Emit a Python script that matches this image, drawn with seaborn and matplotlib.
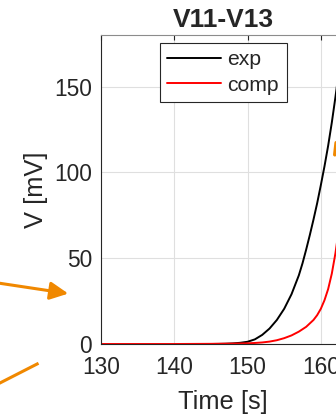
import numpy as np
import pandas as pd
import seaborn as sns
import matplotlib.pyplot as plt
from matplotlib.patches import FancyArrowPatch, ArrowStyle

# Measured voltage (exp) and computed voltage (comp) between nodes V11 and V13
t_exp = [145, 146, 147, 148, 149, 150, 151, 152, 153, 154, 155, 156, 157,
         157.5, 158, 158.5, 159, 159.5, 160, 160.5, 161, 161.5, 162, 162.5, 163]
v_exp = [0, 0.05, 0.15, 0.35, 0.7, 1.3, 2.7, 5.3, 9, 14, 20.5, 29, 40,
         47, 55, 63.5, 72.5, 82, 92.5, 103.5, 115.5, 129, 144, 160, 177]

t_comp = [130, 135, 140, 145, 148, 150, 151, 152, 153, 154, 155, 156, 157,
          158, 159, 159.5, 160, 160.5, 161, 161.5, 162, 162.5, 163]
v_comp = [0, 0, 0, 0.1, 0.25, 0.4, 0.6, 0.9, 1.4, 2.2, 3.4, 5, 7.2,
          10, 14, 16.8, 20.5, 25.5, 32, 41, 53, 68, 86]

series_names = ["exp", "comp"]
x_ticks = [130, 140, 150, 160]
y_ticks = [0, 50, 100, 150]

df = pd.concat([
    pd.DataFrame({"Time": t_exp, "V": v_exp, "series": "exp"}),
    pd.DataFrame({"Time": t_comp, "V": v_comp, "series": "comp"}),
], ignore_index=True)

sns.set_style("white")
plt.rcParams["font.family"] = ["Liberation Sans", "DejaVu Sans"]

W, H = 336, 418
fig = plt.figure(figsize=(W / 100, H / 100), dpi=100)
ax = fig.add_axes([101 / W, 74 / H, 244 / W, 309 / H])

sns.lineplot(data=df, x="Time", y="V", hue="series", hue_order=series_names,
             palette={"exp": "#000000", "comp": "#FF0000"},
             estimator=None, sort=True, linewidth=1.4, ax=ax)

ax.set_xlim(130, 163.3)
ax.set_ylim(0, 180)
ax.set_xticks(x_ticks)
ax.set_yticks(y_ticks)
ax.grid(True, color="#DFDFDF", linewidth=0.8)
ax.set_axisbelow(True)

edge = "#262626"
for side in ["left", "bottom", "top", "right"]:
    ax.spines[side].set_visible(True)
    ax.spines[side].set_color(edge)
    ax.spines[side].set_linewidth(0.8)
ax.spines["top"].set_color("#8C8C8C")

ax.tick_params(axis="both", direction="in", length=3.5, width=0.8,
               colors=edge, labelsize=16.4, top=True, right=True)
ax.tick_params(axis="x", pad=8.5)
ax.tick_params(axis="y", pad=6.5)

ax.set_xlabel("Time [s]", fontsize=18.4, color=edge, labelpad=8)
ax.set_ylabel("V [mV]", fontsize=18.4, color=edge, labelpad=4.5)
ax.set_title("V11-V13", fontsize=19, fontweight="bold", pad=5.5)

leg = ax.legend(loc="upper left", bbox_to_anchor=(0.242, 0.974),
                borderaxespad=0, fontsize=15.2, frameon=True, fancybox=False,
                handlelength=2.55, handletextpad=0.3, labelspacing=0.3,
                borderpad=0.35)
leg.get_frame().set_edgecolor(edge)
leg.get_frame().set_linewidth(0.8)
leg.get_frame().set_alpha(1)

# Orange callout arrows drawn across the figure
orange = "#F08800"


def fig_xy(px, py):
    return (px / W, 1 - py / H)


arrow = FancyArrowPatch(fig_xy(-4, 282.7), fig_xy(71, 294),
                        transform=fig.transFigure,
                        arrowstyle=ArrowStyle("-|>", head_length=11, head_width=5.4),
                        mutation_scale=1, linewidth=2.2, color=orange)
fig.add_artist(arrow)

line2 = FancyArrowPatch(fig_xy(-4, 385), fig_xy(41, 362),
                        transform=fig.transFigure, arrowstyle="-",
                        mutation_scale=1, linewidth=2.2, color=orange,
                        capstyle="butt")
fig.add_artist(line2)

line3 = FancyArrowPatch(fig_xy(336.5, 140), fig_xy(334.5, 157.5),
                        transform=fig.transFigure, arrowstyle="-",
                        mutation_scale=1, linewidth=2.6, color=orange)
fig.add_artist(line3)

fig.savefig("out.png", dpi=100)
